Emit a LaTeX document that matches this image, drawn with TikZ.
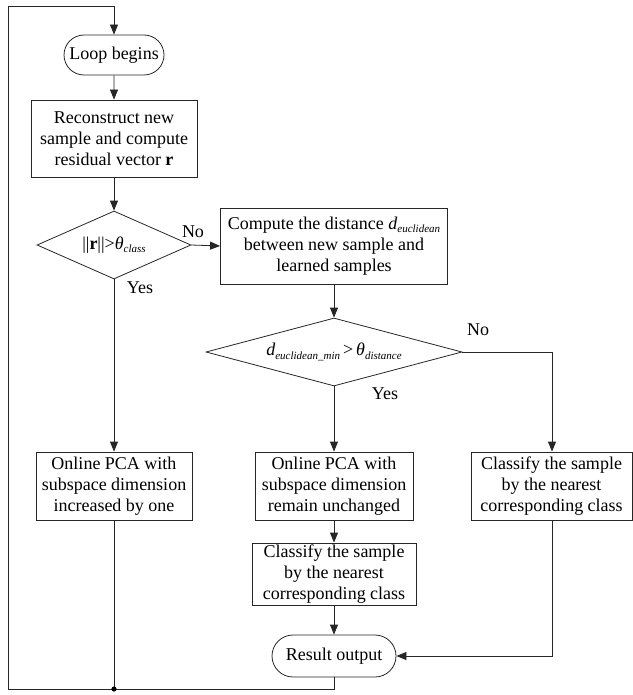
\documentclass[tikz,border=0pt]{standalone}
\usepackage{fontspec}
\setmainfont{Liberation Serif}
\usetikzlibrary{shapes.geometric,shapes.misc,arrows.meta}
\newcommand\lowsub[1]{\raisebox{-0.4ex}{\fontsize{11}{11}\selectfont\itshape #1}}
\tikzset{
  base/.style={draw=black!85, line width=0.8pt, font=\fontsize{18}{21}\selectfont, align=center, inner sep=0pt},
  procbox/.style={base, rectangle},
  termbox/.style={base, rounded rectangle},
  decbox/.style={base, diamond},
  flow/.style={draw=black!85, line width=0.8pt, -{Triangle[length=10pt,width=8pt]}},
  plain/.style={draw=black!85, line width=0.8pt},
  lbl/.style={font=\fontsize{18}{21}\selectfont, inner sep=0pt}
}
\begin{document}
\begin{tikzpicture}[x=1pt,y=-1pt]
\useasboundingbox (0,0) rectangle (632,695);
% nodes
\node[termbox, minimum width=100pt, minimum height=40pt] (loop) at (114,55) {Loop begins};
\node[procbox, minimum width=166pt, minimum height=77pt] (rec) at (114,138.5) {Reconstruct new\\sample and compute\\residual vector \textbf{r}};
\node[decbox, aspect=2.26, minimum width=154pt, minimum height=68pt] (d1) at (114,245) {||\textbf{r}||>\textit{θ}\lowsub{class}};
\node[procbox, minimum width=227pt, minimum height=76pt] (dist) at (334,246) {Compute the distance \textit{d}\lowsub{euclidean}\\between new sample and\\learned samples};
\node[decbox, aspect=3.76, minimum width=256pt, minimum height=68pt] (d2) at (334,352) {\textit{d}\lowsub{euclidean\_min}\,>\,\textit{θ}\lowsub{distance}};
\node[procbox, minimum width=156pt, minimum height=68pt] (pca1) at (114,486) {Online PCA with\\subspace dimension\\increased by one};
\node[procbox, minimum width=158pt, minimum height=68pt] (pca2) at (334,486) {Online PCA with\\subspace dimension\\remain unchanged};
\node[procbox, minimum width=161pt, minimum height=68pt] (cls1) at (551.5,486) {Classify the sample\\by the nearest\\corresponding class};
\node[procbox, minimum width=164pt, minimum height=62pt] (cls2) at (334,574) {Classify the sample\\by the nearest\\corresponding class};
\node[termbox, minimum width=124pt, minimum height=42pt] (res) at (334,656) {Result output};
% coordinates
\coordinate (bl) at (8,689);
\coordinate (tl) at (8,6);
\coordinate (tr) at (114,6);
\coordinate (dot) at (114,689);
\coordinate (br) at (334,689);
\coordinate (nr) at (552,352);
\coordinate (rr) at (552,656);
% connectors
\draw[flow] (loop) -- (rec);
\draw[flow] (rec) -- (d1);
\draw[flow] (d1) -- (pca1);
\draw[flow] (d1.east) -- (dist.west);
\draw[flow] (dist) -- (d2);
\draw[flow] (d2) -- (pca2);
\draw[flow] (d2.east) -- (nr) -- (cls1.north -| nr);
\draw[flow] (pca2) -- (cls2);
\draw[flow] (cls2) -- (res);
\draw[flow] (cls1.south -| rr) -- (rr) -- (res.east);
\draw[plain] (res.south) -- (br) -- (bl) -- (tl) -- (tr);
\draw[flow] (tr) -- (loop.north);
\draw[plain] (pca1.south) -- (dot);
\fill[black] (dot) circle (2.6pt);
% labels
\node[lbl] (no1) at (193,232) {No};
\node[lbl] (yes1) at (140,288) {Yes};
\node[lbl] (no2) at (478,330) {No};
\node[lbl] (yes2) at (385,394) {Yes};
\end{tikzpicture}
\end{document}
